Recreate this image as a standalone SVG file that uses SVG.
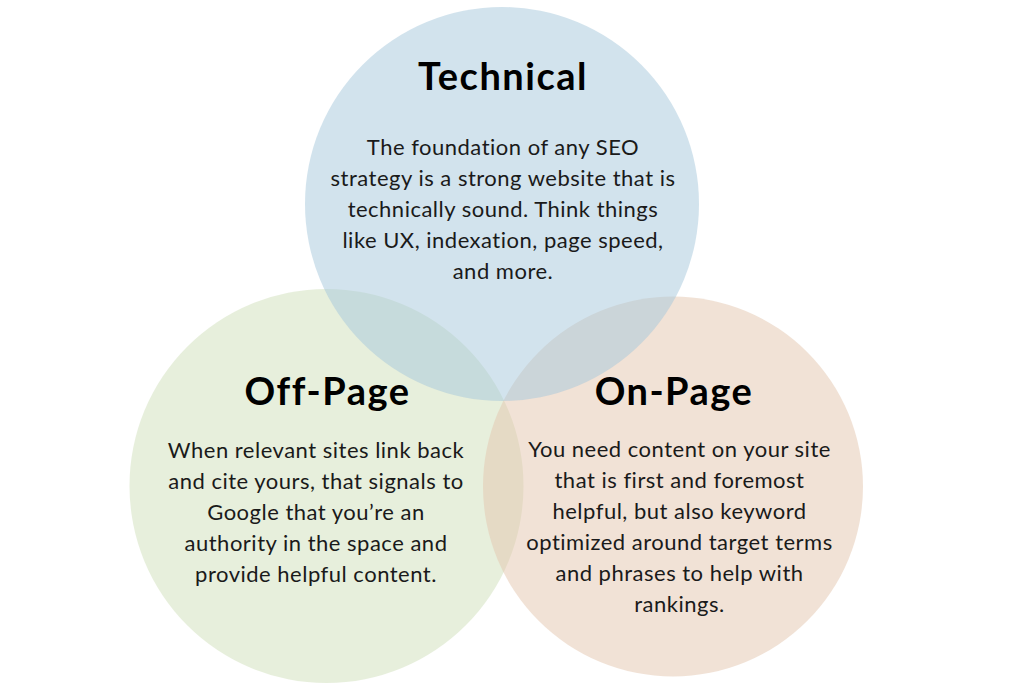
<svg xmlns="http://www.w3.org/2000/svg" width="1024" height="692" viewBox="0 0 1024 692">
<style>
.title{font-family:Lato,"Noto Sans",sans-serif;font-weight:700;font-size:38px;letter-spacing:1.5px;fill:#000;text-anchor:middle}
.body{font-family:Lato,"Noto Sans",sans-serif;font-size:22px;letter-spacing:0.5px;fill:#1a1a1a;text-anchor:middle}
</style>
<rect width="1024" height="692" fill="#ffffff"/>
<g id="offpage">
<circle cx="326.5" cy="486" r="197" fill="#cfdfb9" fill-opacity="0.5"/>
</g>
<g id="onpage">
<circle cx="673" cy="486.5" r="190" fill="#e3c6ad" fill-opacity="0.5"/>
</g>
<g id="technical">
<circle cx="502" cy="204" r="197" fill="#a6c8dc" fill-opacity="0.5"/>
</g>
<g id="technical-text">
<text class="title" x="503" y="90">Technical</text>
<text class="body" x="503" y="155">The foundation of any SEO</text>
<text class="body" x="503" y="186">strategy is a strong website that is</text>
<text class="body" x="503" y="217">technically sound. Think things</text>
<text class="body" x="503" y="248">like UX, indexation, page speed,</text>
<text class="body" x="503" y="279">and more.</text>
</g>
<g id="offpage-text">
<text class="title" x="327.5" y="405">Off-Page</text>
<text class="body" x="316" y="458">When relevant sites link back</text>
<text class="body" x="316" y="489">and cite yours, that signals to</text>
<text class="body" x="316" y="520">Google that you’re an</text>
<text class="body" x="316" y="551">authority in the space and</text>
<text class="body" x="316" y="582">provide helpful content.</text>
</g>
<g id="onpage-text">
<text class="title" x="674" y="405">On-Page</text>
<text class="body" x="679.5" y="457">You need content on your site</text>
<text class="body" x="679.5" y="488">that is first and foremost</text>
<text class="body" x="679.5" y="519">helpful, but also keyword</text>
<text class="body" x="679.5" y="550">optimized around target terms</text>
<text class="body" x="679.5" y="581">and phrases to help with</text>
<text class="body" x="679.5" y="612">rankings.</text>
</g>
<g id="connectors"/>
</svg>
